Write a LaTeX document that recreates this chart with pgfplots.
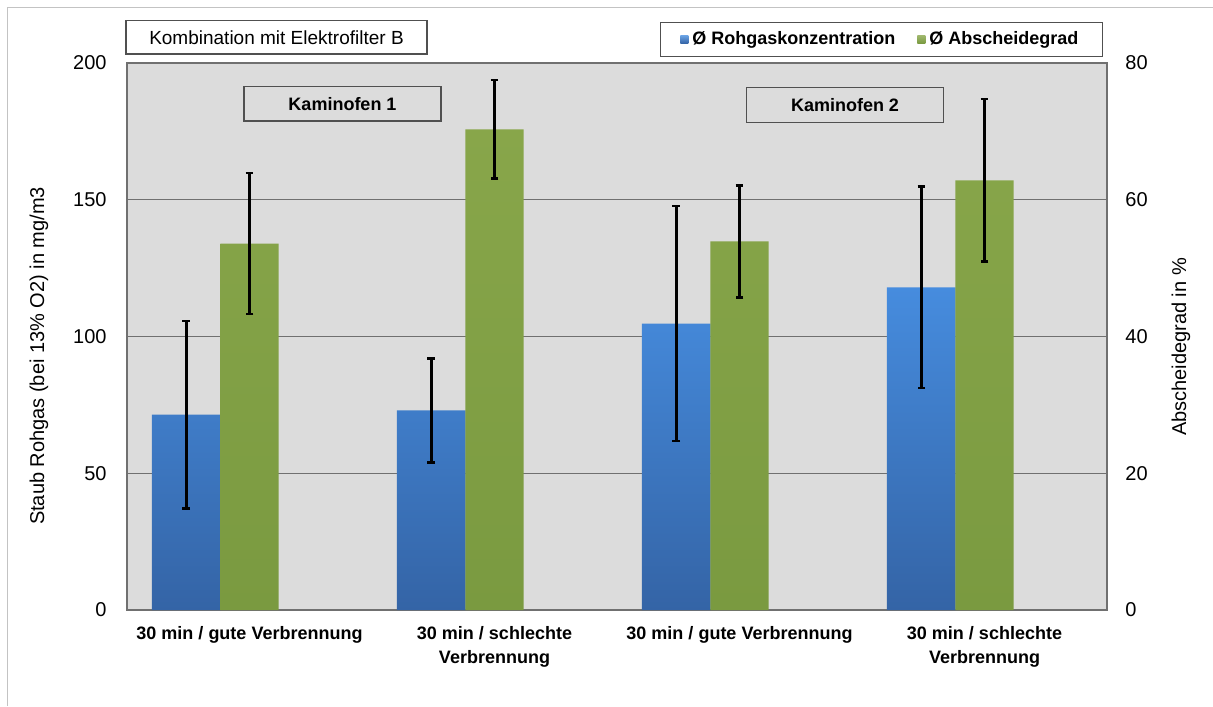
\documentclass[border=0pt]{standalone}
\usepackage{pgfplots}
\usepackage{pgfplotstable}
\pgfplotsset{compat=1.18}
\usepackage{fontspec}
\setmainfont{Liberation Sans}
\definecolor{bgray}{RGB}{220,220,220}
\definecolor{gridc}{RGB}{112,112,112}
\definecolor{bluetop}{RGB}{70,140,222}
\definecolor{bluebot}{RGB}{52,100,166}
\definecolor{greentop}{RGB}{136,166,74}
\definecolor{greenbot}{RGB}{122,154,64}
\definecolor{framec}{RGB}{195,195,195}
\definecolor{boxc}{RGB}{80,80,80}

\pgfplotstableread{
x y e
0 71.4 34.2
1 73.0 19.0
2 104.7 43.0
3 118.0 36.9
}\rohgas
\pgfplotstableread{
x y e
0 53.6 10.3
1 70.3 7.2
2 53.9 8.2
3 62.85 11.9
}\absch

\pgfplotsset{
  common/.style={
    at={(63.5pt,48pt)}, anchor=south west,
    scale only axis, width=490pt, height=273.5pt,
    xmin=-0.5, xmax=3.5, ymin=0,
    /pgf/number format/assume math mode=true,
    tick align=inside,
    major tick length=2.5pt,
    tick style={gridc, line width=0.5pt},
    ticklabel style={font=\fontsize{10}{12}\selectfont},
    label style={font=\fontsize{10}{12}\selectfont},
    axis line style={gridc, line width=0.6pt},
  },
  errstyle/.style={forget plot, draw=none, mark=none,
    error bars/.cd, y dir=both, y explicit,
    error bar style={draw=black, line width=1.25pt, solid},
    error mark options={draw=black, line width=1.25pt, mark size=1.9pt, rotate=90}},
}

\begin{document}
\begin{tikzpicture}
\useasboundingbox (0,0) rectangle (606.5pt,353pt);
\draw[framec, line width=0.6pt] (3.65pt,0pt) -- (3.65pt,349.35pt) -- (606.5pt,349.35pt);

\begin{axis}[common,
  ymax=200, ytick={0,50,100,150,200},
  axis background/.style={fill=bgray},
  ymajorgrids, grid style={gridc, line width=0.6pt},
  ytick pos=left, xtick pos=bottom,
  yticklabel style={inner sep=0pt, xshift=-10pt},
  xtick={0,1,2,3},
  xticklabels={{30 min / gute Verbrennung},{30 min / schlechte\\Verbrennung},{30 min / gute Verbrennung},{30 min / schlechte\\Verbrennung}},
  xticklabel style={font=\bfseries\fontsize{9}{12}\selectfont, align=center, inner sep=0pt, yshift=-8pt},
  xtick style={draw=none},
  extra x ticks={-0.5,0.5,1.5,2.5,3.5},
  extra x tick labels={},
  extra x tick style={tick align=outside, major tick length=3.5pt, tick style={draw=gridc, line width=0.5pt}, grid=none},
  ylabel={Staub Rohgas (bei 13\% O2) in mg/m3},
  ylabel style={at={(axis description cs:-0.0898,0.4644)}, anchor=center},
]
\addplot[ybar, bar width=0.281, bar shift=-0.258, draw=none, top color=bluetop, bottom color=bluebot]
  table[x=x, y=y] {\rohgas};
\addplot[errstyle] table[x expr=\thisrow{x}-0.258, y=y, y error=e] {\rohgas};
\end{axis}

\begin{axis}[common,
  ymax=80, ytick={0,20,40,60,80},
  axis y line*=right, axis x line=none,
  yticklabel style={inner sep=0pt, xshift=9pt},
  ylabel={Abscheidegrad in \%},
  ylabel style={at={(axis description cs:1.0755,0.4808)}, anchor=center},
  legend style={at={(0.9959,1.0755)}, anchor=north east, draw=boxc, fill=white,
    line width=0.6pt, font=\bfseries\fontsize{9}{11}\selectfont,
    legend columns=2, inner xsep=10pt, inner ysep=2.5pt,
    /tikz/every even column/.append style={column sep=9pt}},
  legend cell align=left,
]
\addlegendimage{legend image code/.code={\shade[top color=bluetop!80!white, bottom color=bluebot, draw=none] (0pt,-2pt) rectangle (4pt,2pt);}}
\addlegendentry{Ø Rohgaskonzentration}
\addplot[ybar, bar width=0.238, bar shift=0, draw=none, top color=greentop, bottom color=greenbot,
  legend image code/.code={\shade[top color=greentop!80!white, bottom color=greenbot, draw=none] (0pt,-2pt) rectangle (4pt,2pt);}]
  table[x=x, y=y] {\absch};
\addlegendentry{Ø Abscheidegrad}
\addplot[errstyle] table[x=x, y=y, y error=e] {\absch};
\end{axis}

\node[draw=boxc, fill=white, line width=0.6pt, minimum width=150.5pt, minimum height=16.6pt, inner sep=0pt,
  font=\fontsize{9.5}{11}\selectfont] at (138.25pt,334.3pt) {Kombination mit Elektrofilter B};
\node[draw=boxc, line width=0.6pt, minimum width=98.5pt, minimum height=17.2pt, inner sep=0pt,
  font=\bfseries\fontsize{9}{11}\selectfont] at (171.25pt,301.1pt) {Kaminofen 1};
\node[draw=boxc, line width=0.6pt, minimum width=98.3pt, minimum height=17.3pt, inner sep=0pt,
  font=\bfseries\fontsize{9}{11}\selectfont] at (422.5pt,300.5pt) {Kaminofen 2};
\end{tikzpicture}
\end{document}
